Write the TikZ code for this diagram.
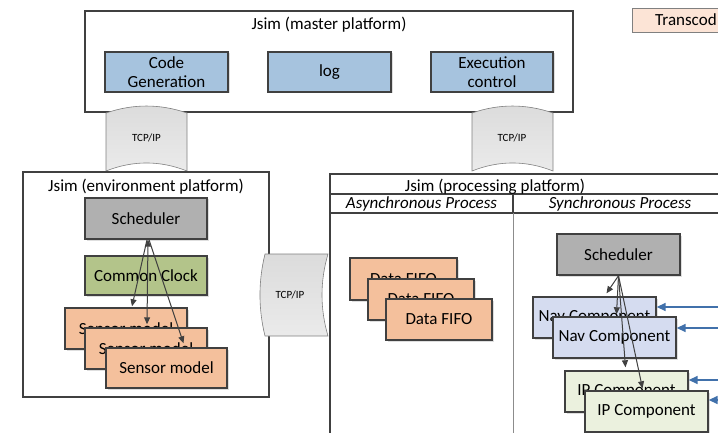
\documentclass[tikz,border=0pt]{standalone}
\usepackage{fontspec}
\setmainfont{Carlito}
\usetikzlibrary{shadows,arrows.meta,calc}
\definecolor{edgec}{HTML}{404040}
\definecolor{innerblue}{HTML}{A6C3DE}
\definecolor{schedgray}{HTML}{B0B0B0}
\definecolor{clockgreen}{HTML}{B3C48A}
\definecolor{sensororange}{HTML}{F4C09C}
\definecolor{navblue}{HTML}{D5DCF0}
\definecolor{ipgreen}{HTML}{EBF1DE}
\definecolor{transpeach}{HTML}{FCE4D6}
\definecolor{arrowblue}{HTML}{4171AB}
\begin{document}
\begin{tikzpicture}[x=1pt,y=-1pt,
  every node/.style={font=\fontsize{17}{19}\selectfont, inner sep=0pt, align=center},
  platform/.style={draw=edgec, line width=1.4pt, fill=white},
  box/.style={draw=edgec, line width=1.4pt,
    drop shadow={shadow xshift=1.5pt, shadow yshift=-1.5pt, fill=black!25},
    minimum width=122pt, minimum height=41pt},
  bluebox/.style={box, fill=innerblue, minimum width=123pt, minimum height=40pt},
  graybox/.style={box, fill=schedgray},
  greenbox/.style={box, fill=clockgreen, minimum height=39pt},
  orangebox/.style={box, fill=sensororange},
  fifobox/.style={box, fill=sensororange, minimum width=106pt},
  navbox/.style={box, fill=navblue, minimum width=123pt},
  ipbox/.style={box, fill=ipgreen, minimum width=123pt},
  tcp/.style={draw=black!50, line width=0.6pt, top color=black!14, bottom color=black!8},
  tcptext/.style={font=\fontsize{11}{13}\selectfont},
  sarrow/.style={draw=edgec, line width=1pt, -{Triangle[length=7pt,width=6pt]}},
  barrow/.style={draw=arrowblue, line width=1.6pt, -{Triangle[length=9pt,width=8pt]}}
]
\useasboundingbox (0,0) rectangle (718,433);

% Transcoding box (cut at the edge)
\path[draw=black!50, line width=0.8pt, fill=transpeach,
  drop shadow={shadow xshift=1.5pt, shadow yshift=-1.5pt, fill=black!25}]
  (632,8) rectangle (740,32);
\node[anchor=west] (transc) at (655,20) {Transcod};

% master platform
\node[platform, minimum width=488pt, minimum height=101pt] (master) at (329,61.5) {};
\node (mastert) at (329,25) {Jsim (master platform)};
\node[bluebox] (codegen) at (166.5,72) {Code\\Generation};
\node[bluebox] (log) at (329.5,72) {log};
\node[bluebox, minimum width=122pt] (exec) at (492,72) {Execution\\control};

% TCP/IP links to master
\path[tcp] (106,113) .. controls (133,103.7) and (160,103.7) .. (187,113)
  -- (187,171) .. controls (160,160.3) and (133,160.3) .. (106,171) -- cycle;
\node[tcptext] (tcp1) at (146.5,138) {TCP/IP};
\path[tcp] (472,113) .. controls (499,103.7) and (526,103.7) .. (553,113)
  -- (553,171) .. controls (526,160.3) and (499,160.3) .. (472,171) -- cycle;
\node[tcptext] (tcp2) at (512,138) {TCP/IP};

% environment platform
\node[platform, minimum width=246pt, minimum height=225pt] (env) at (146,284.5) {};
\node (envt) at (146,187) {Jsim (environment platform)};
\node[graybox] (sch1) at (146,218.5) {Scheduler};
\node[greenbox] (clock) at (146,275.5) {Common Clock};
\node[orangebox] (sen1) at (126,328.5) {Sensor model};
\node[orangebox] (sen2) at (146,348.5) {Sensor model};
\node[orangebox, minimum width=121pt, minimum height=40pt] (sen3) at (166.5,368) {Sensor model};

\draw[sarrow] ([xshift=1pt]sch1.south) -- ([xshift=6pt,yshift=1pt]sen1.north);
\draw[sarrow, {Triangle[length=7pt,width=6pt]}-{Triangle[length=7pt,width=6pt]}]
  ([xshift=2pt]sch1.south) -- ([xshift=1pt,yshift=3pt]sen2.north);
\draw[sarrow] ([xshift=3pt]sch1.south) -- ([xshift=17pt,yshift=4pt]sen3.north);

% TCP/IP between environment and processing
\path[tcp] (265,254) -- (328,254) .. controls (320,281.3) and (320,308.7) .. (328,336)
  -- (265,336) .. controls (258.3,308.7) and (258.3,281.3) .. (265,254) -- cycle;
\node[tcptext] (tcp3) at (290,295) {TCP/IP};

% processing platform
\path[platform] (330,174) rectangle (750,450);
\draw[draw=edgec, line width=1.2pt] (330,194) -- (750,194);
\draw[draw=edgec, line width=1.2pt] (330,213) -- (750,213);
\draw[draw=edgec, line width=1.2pt] (513,194) -- (513,213);
\draw[draw=black!45, line width=0.9pt] (513,213) -- (513,450);
\node (proct) at (495,186.5) {Jsim (processing platform)};
\node (async) at (421.5,204) {\itshape Asynchronous Process};
\node (sync) at (620,204) {\itshape Synchronous Process};

% asynchronous part
\node[fifobox, minimum width=107pt, minimum height=42pt] (fifo1) at (403.5,279) {Data FIFO};
\node[fifobox] (fifo2) at (421,299.5) {Data FIFO};
\node[fifobox] (fifo3) at (439,319.5) {Data FIFO};

% synchronous part
\node[graybox, minimum width=123pt] (sch2) at (618.5,254.5) {Scheduler};
\node[navbox] (nav1) at (594.5,317.5) {Nav Component};
\node[navbox] (nav2) at (614.5,337.5) {Nav Component};
\node[ipbox] (ip1) at (626.5,391.5) {IP Component};
\node[ipbox] (ip2) at (646.5,411.5) {IP Component};

\draw[sarrow] (sch2.south) -- ([xshift=12pt,yshift=3pt]nav1.north);
\draw[sarrow] (sch2.south) -- ([xshift=2pt,yshift=2pt]nav2.north);
\draw[sarrow] (sch2.south) -- ([xshift=-1pt,yshift=3pt]ip1.north);
\draw[sarrow] (sch2.south) -- ([xshift=-4pt,yshift=2pt]ip2.north);

% external inputs
\coordinate (in1) at (725,307);
\coordinate (in2) at (725,328);
\coordinate (in3) at (725,380);
\coordinate (in4) at (725,400);
\draw[barrow] (in1) -- (in1 -| nav1.east);
\draw[barrow] (in2) -- (in2 -| nav2.east);
\draw[barrow] (in3) -- (in3 -| ip1.east);
\draw[barrow] (in4) -- (in4 -| ip2.east);
\end{tikzpicture}
\end{document}
